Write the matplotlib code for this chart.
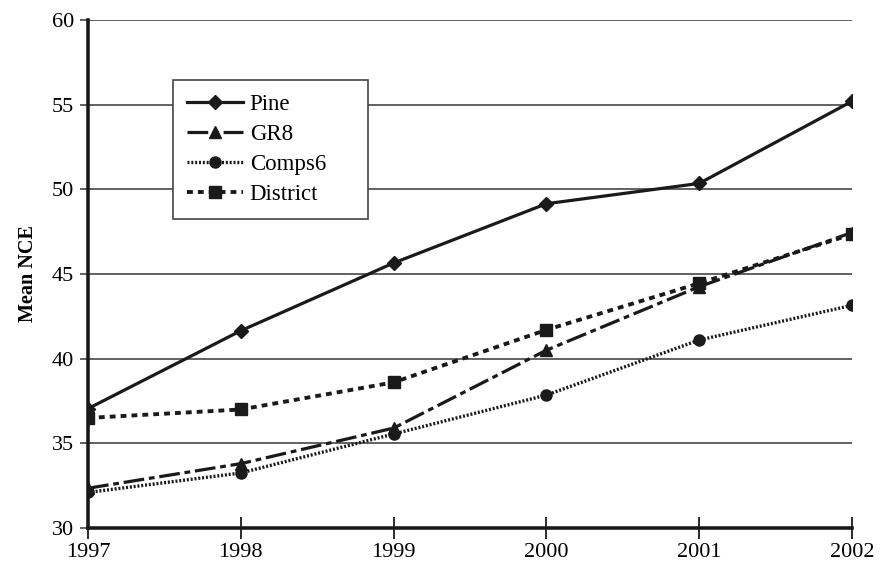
import matplotlib.pyplot as plt

# dados
anos = [1997, 1998, 1999, 2000, 2001, 2002]
pine = [37.05, 41.65, 45.65, 49.15, 50.35, 55.2]
gr8 = [32.35, 33.8, 35.9, 40.5, 44.25, 47.45]
comps6 = [32.1, 33.25, 35.55, 37.85, 41.1, 43.15]
district = [36.5, 37.0, 38.6, 41.7, 44.45, 47.35]

plt.rcParams['font.family'] = ['Liberation Serif', 'DejaVu Serif']

fig = plt.figure(figsize=(8.83, 5.65), dpi=100)
ax = fig.add_axes([88 / 883, 1 - 528 / 565, (852 - 88) / 883, (528 - 20) / 565])

ax.plot(anos, pine, color='#1a1a1a', lw=2.3, marker='D', ms=7.5, label='Pine', zorder=5)
ax.plot(anos, gr8, color='#1a1a1a', lw=2.3, marker='^', ms=9, label='GR8',
        dashes=(6.5, 1.5, 1.8, 1.5), zorder=4)
ax.plot(anos, comps6, color='#1a1a1a', lw=2.4, marker='o', ms=8, label='Comps6',
        dashes=(0.6, 0.55), zorder=3)
ax.plot(anos, district, color='#1a1a1a', lw=2.8, marker='s', ms=8, label='District',
        dashes=(1.5, 1.3), zorder=4)

ax.set_xlim(1997, 2002)
ax.set_ylim(30, 60)
ax.set_xticks(anos)
ax.set_yticks(range(30, 61, 5))
ax.yaxis.grid(True, color='#555555', lw=1.3)
ax.set_axisbelow(True)

for s in ['top', 'right']:
    ax.spines[s].set_visible(False)
ax.spines['left'].set_linewidth(2.6)
ax.spines['bottom'].set_linewidth(2.6)
ax.spines['left'].set_color('#1a1a1a')
ax.spines['bottom'].set_color('#1a1a1a')

ax.tick_params(axis='y', direction='out', length=6, width=1.3, color='#555555',
               labelsize=16, pad=4)
ax.tick_params(axis='x', direction='inout', length=16, width=1.3, color='#1a1a1a',
               labelsize=16, pad=3)

ax.set_ylabel('Mean NCE', fontsize=14.5, fontweight='bold', labelpad=10)

# caixa da legenda com largura fixa, como no original
leg = ax.legend(loc='upper left',
                bbox_to_anchor=(173 / 883, 1 - 211 / 565, 195 / 883, 131 / 565),
                bbox_transform=fig.transFigure, mode='expand', fontsize=16.5,
                frameon=True, fancybox=False, edgecolor='#444444',
                handlelength=2.45, handletextpad=0.3, labelspacing=0.4,
                borderpad=0.6, borderaxespad=0)
leg.get_frame().set_linewidth(1.2)
leg.get_frame().set_alpha(1)

plt.savefig('out.png', dpi=100)
